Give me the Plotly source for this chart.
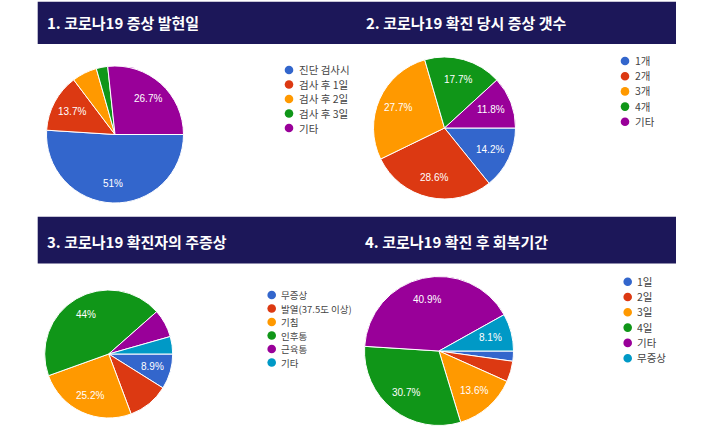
import math
import plotly.graph_objects as go

W, H = 720, 432

# ---- data ----
titles = ["1. 코로나19 증상 발현일", "2. 코로나19 확진 당시 증상 갯수",
          "3. 코로나19 확진자의 주증상", "4. 코로나19 확진 후 회복기간"]

labels1 = ["진단 검사시", "검사 후 1일", "검사 후 2일", "검사 후 3일", "기타"]
values1 = [51.0, 13.7, 5.9, 2.7, 26.7]
shown1 = [True, True, False, False, True]

labels2 = ["1개", "2개", "3개", "4개", "기타"]
values2 = [14.2, 28.6, 27.7, 17.7, 11.8]
shown2 = [True, True, True, True, True]

labels3 = ["무증상", "발열(37.5도 이상)", "기침", "인후통", "근육통", "기타"]
values3 = [8.9, 10.4, 25.2, 44.0, 7.1, 4.4]
shown3 = [True, False, True, True, False, False]

labels4 = ["1일", "2일", "3일", "4일", "기타", "무증상"]
values4 = [2.2, 4.5, 13.6, 30.7, 40.9, 8.1]
shown4 = [False, False, True, True, True, True]

palette = ["#3366cc", "#dc3912", "#ff9900", "#109618", "#990099", "#0099c6"]
HEADER = "#1c1759"
START_ANGLE = 90      # first slice starts at 3 o'clock, clockwise
LABEL_RADIUS = 0.71   # slice labels at this fraction of the radius

# ---- layout constants (pixels) ----
pies = [
    dict(labels=labels1, values=values1, shown=shown1, cx=115, cy=134.5, r=68.5,
         lx=289, ly=70, ldy=14.5, fs=10.5),
    dict(labels=labels2, values=values2, shown=shown2, cx=444.5, cy=128, r=71,
         lx=625, ly=61, ldy=15.2, fs=10.5),
    dict(labels=labels3, values=values3, shown=shown3, cx=108.7, cy=354, r=64,
         lx=271.7, ly=295, ldy=13.5, fs=9.5),
    dict(labels=labels4, values=values4, shown=shown4, cx=439, cy=351, r=74.5,
         lx=627.7, ly=281.7, ldy=15.3, fs=10.5),
]

def px(x):
    return x / W

def py(y):
    return 1 - y / H

def fmt_pct(frac):
    s = "%.3g" % (frac * 100)
    if "." in s:
        s = s.rstrip("0").rstrip(".")
    return s + "%"

fig = go.Figure()
shapes = []
annotations = []

for p in pies:
    n = len(p["labels"])
    fig.add_trace(go.Pie(
        labels=p["labels"], values=p["values"], sort=False,
        direction="clockwise", rotation=START_ANGLE,
        marker=dict(colors=palette[:n], line=dict(color="white", width=1)),
        textinfo="none",
        hoverinfo="label+percent", showlegend=False,
        domain=dict(x=[px(p["cx"] - p["r"]), px(p["cx"] + p["r"])],
                    y=[py(p["cy"] + p["r"]), py(p["cy"] - p["r"])]),
    ))
    # slice percentage labels
    total = sum(p["values"])
    ang = START_ANGLE
    for v, s in zip(p["values"], p["shown"]):
        span = 360 * v / total
        mid = math.radians(ang + span / 2)
        ang += span
        if not s:
            continue
        lx = p["cx"] + LABEL_RADIUS * p["r"] * math.sin(mid)
        ly = p["cy"] - LABEL_RADIUS * p["r"] * math.cos(mid)
        annotations.append(dict(x=px(lx), y=py(ly), xref="paper", yref="paper",
                                text=fmt_pct(v / total), showarrow=False,
                                xanchor="center", yanchor="middle",
                                font=dict(family="Arial, Liberation Sans", size=10,
                                          color="white")))
    # custom circular-dot legend
    dr = 4.3
    for i, lab in enumerate(p["labels"]):
        yy = p["ly"] + i * p["ldy"]
        shapes.append(dict(type="circle", xref="paper", yref="paper",
                           x0=px(p["lx"] - dr), x1=px(p["lx"] + dr),
                           y0=py(yy + dr), y1=py(yy - dr),
                           fillcolor=palette[i], line=dict(width=0)))
        annotations.append(dict(x=px(p["lx"] + 8.5), y=py(yy), xref="paper", yref="paper",
                                text=lab, showarrow=False, xanchor="left", yanchor="middle",
                                height=p["ldy"] - 1.5, borderpad=0, valign="middle",
                                font=dict(family="Noto Sans CJK KR", size=p["fs"],
                                          color="#444444")))

# header bars
for (y0, y1) in [(1.7, 44), (216.8, 263.5)]:
    shapes.append(dict(type="rect", xref="paper", yref="paper", layer="below",
                       x0=px(37.7), x1=px(676), y0=py(y1), y1=py(y0),
                       fillcolor=HEADER, line=dict(width=0)))

title_pos = [(45, 23), (364, 23), (45, 241), (363, 241)]
for t, (tx, ty) in zip(titles, title_pos):
    annotations.append(dict(x=px(tx), y=py(ty), xref="paper", yref="paper",
                            text="<b>" + t + "</b>", showarrow=False,
                            xanchor="left", yanchor="middle",
                            font=dict(family="Noto Sans CJK KR", size=15, color="white")))

fig.update_layout(width=W, height=H, margin=dict(l=0, r=0, t=0, b=0),
                  paper_bgcolor="white", plot_bgcolor="white",
                  shapes=shapes, annotations=annotations)

fig.write_html("out.html")
